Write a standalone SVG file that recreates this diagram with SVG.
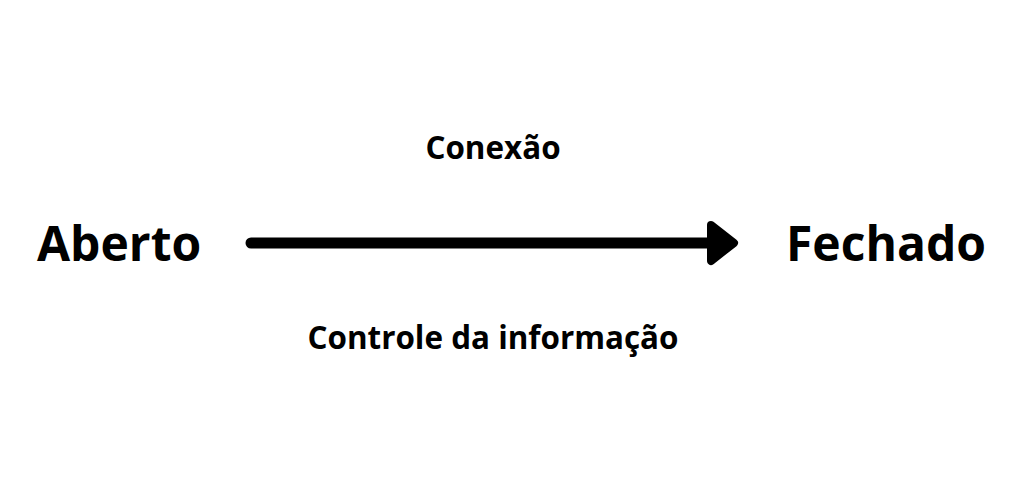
<svg xmlns="http://www.w3.org/2000/svg" width="1024" height="484" viewBox="0 0 1024 484">
<style>
.t{font-family:"Open Sans","Liberation Sans",sans-serif;font-weight:bold;fill:#000}
.big{font-size:48px}
.sm{font-size:31.4px}
</style>
<rect width="1024" height="484" fill="#fff"/>
<g id="aberto"><text class="t big" x="37" y="261">Aberto</text></g>
<g id="fechado"><text class="t big" x="786" y="261">Fechado</text></g>
<g id="connectors">
<line x1="251" y1="243" x2="724" y2="243" stroke="#000" stroke-width="11" stroke-linecap="round"/>
<polygon points="711,225 734,243 711,261" fill="#000" stroke="#000" stroke-width="8" stroke-linejoin="round"/>
<text class="t sm" x="493" y="159" text-anchor="middle">Conexão</text>
<text class="t sm" x="493" y="349" text-anchor="middle">Controle da informação</text>
</g>
</svg>
